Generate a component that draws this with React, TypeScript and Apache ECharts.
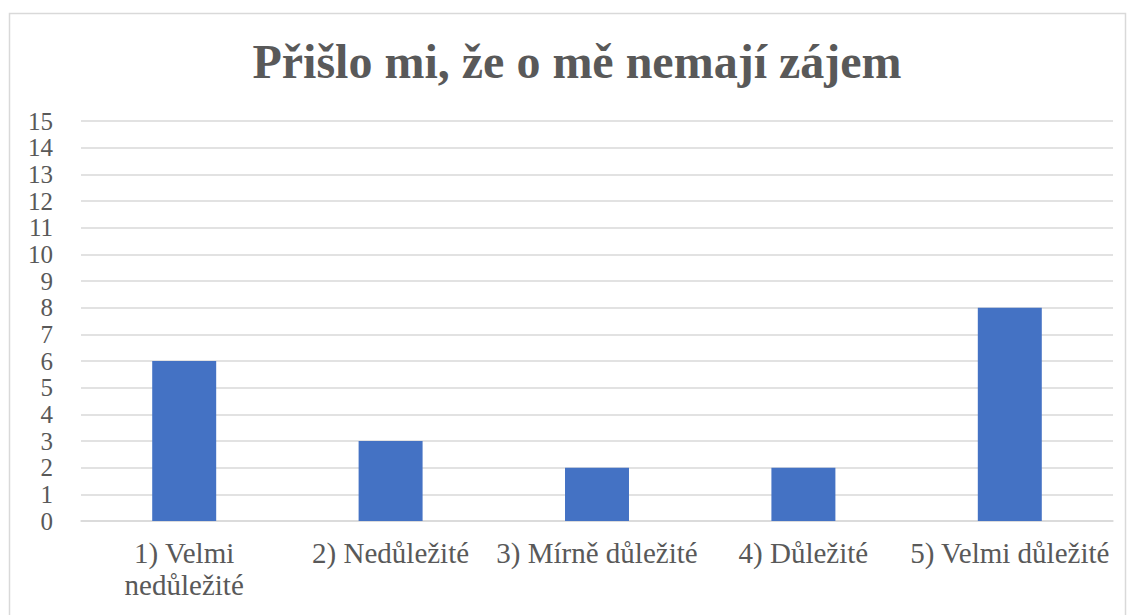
import React, { useEffect, useRef } from "react";
import * as echarts from "echarts";

const titleText = "Přišlo mi, že o mě nemají zájem";
const categories = [
  "1) Velmi nedůležité",
  "2) Nedůležité",
  "3) Mírně důležité",
  "4) Důležité",
  "5) Velmi důležité",
];
const values = [6, 3, 2, 2, 8];
const yMin = 0;
const yMax = 15;
const yStep = 1;

// wrap only labels longer than this many characters (as in the original)
const maxLabelChars = 18;

function wrapLabel(s: string): string {
  if (s.length <= maxLabelChars) return s;
  const i = s.lastIndexOf(" ");
  return i > 0 ? s.slice(0, i) + "\n" + s.slice(i + 1) : s;
}

export default function App() {
  const ref = useRef<HTMLDivElement>(null);
  useEffect(() => {
    if (!ref.current) return;
    const chart = echarts.init(ref.current, null, { renderer: "svg" });
    const font = "Liberation Serif";
    chart.setOption({
      animation: false,
      backgroundColor: "#ffffff",
      title: {
        text: titleText,
        left: 572,
        top: 32,
        textAlign: "center",
        textStyle: {
          fontFamily: font,
          fontWeight: "bold",
          fontSize: 48,
          color: "#595959",
        },
      },
      graphic: [
        {
          type: "rect",
          shape: { x: 9.5, y: 13.5, width: 1116, height: 620 },
          style: { fill: "none", stroke: "#d9d9d9", lineWidth: 1.5 },
          silent: true,
        },
      ],
      grid: { left: 81, right: 19, top: 121, bottom: 94, containLabel: false },
      xAxis: {
        type: "category",
        data: categories,
        axisLine: { show: true, lineStyle: { color: "#d9d9d9", width: 1.5 } },
        axisTick: { show: false },
        axisLabel: {
          interval: 0,
          margin: 16,
          fontFamily: font,
          fontSize: 29,
          color: "#595959",
          lineHeight: 32,
          formatter: (v: string) => wrapLabel(v),
        },
      },
      yAxis: {
        type: "value",
        min: yMin,
        max: yMax,
        interval: yStep,
        axisLine: { show: false },
        axisTick: { show: false },
        splitLine: { lineStyle: { color: "#d9d9d9", width: 1.5 } },
        axisLabel: {
          margin: 28,
          fontFamily: font,
          fontSize: 25,
          color: "#595959",
        },
      },
      series: [
        {
          type: "bar",
          data: values,
          barWidth: "31%",
          itemStyle: { color: "#4472c4" },
        },
      ],
    });
    return () => chart.dispose();
  }, []);
  return (
    <div
      ref={ref}
      style={{ position: "fixed", left: 0, top: 0, width: 1132, height: 615 }}
    />
  );
}
